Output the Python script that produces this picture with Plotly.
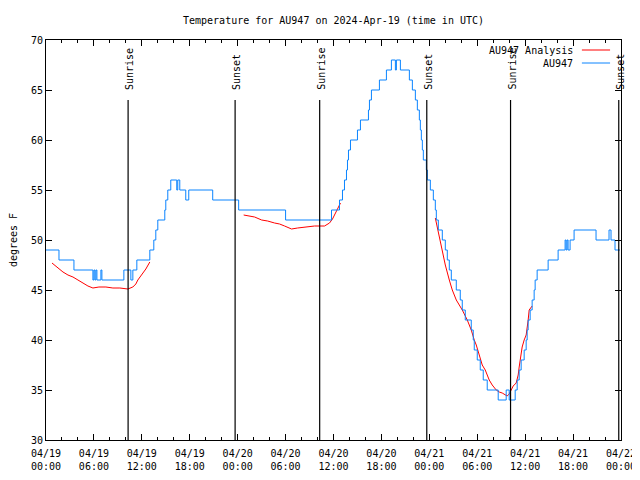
import pandas as pd
import plotly.graph_objects as go

BASE = pd.Timestamp("2024-04-19 00:00")

# Observed station temperature (hours since 04/19 00:00 UTC, deg F), step data
obs_hours = [0.0, 1.625, 3.5, 5.875, 6.0, 6.125, 6.25, 6.375, 6.875, 7.0, 9.75, 10.625, 10.875,
             11.375, 13.0, 13.5, 13.75, 14.0, 14.875, 15.0, 15.25, 15.625, 16.375, 16.5, 16.75,
             17.5, 17.875, 20.875, 24.125, 30.0, 35.75, 36.75, 37.125, 37.375, 37.625, 37.75,
             37.875, 38.125, 39.0, 39.375, 40.375, 40.5, 40.75, 41.75, 42.625, 43.25, 43.75,
             43.875, 44.375, 45.5, 45.875, 46.25, 46.5, 46.75, 46.875, 47.0, 47.125, 47.25,
             47.625, 47.75, 48.125, 48.5, 48.75, 48.875, 49.125, 49.625, 50.0, 50.25, 50.5,
             50.75, 51.375, 51.875, 52.125, 52.5, 53.25, 53.5, 53.625, 54.0, 54.375, 54.75,
             55.25, 56.625, 57.625, 58.0, 58.75, 59.0, 59.25, 59.5, 59.875, 60.125, 60.25,
             60.375, 60.625, 60.875, 61.125, 61.25, 61.5, 62.875, 64.125, 65.0, 65.125, 65.25,
             65.375, 65.625, 66.125, 68.875, 70.5, 70.75, 71.25, 71.875]
obs_temps = [49, 48, 47, 46, 47, 46, 47, 46, 47, 46, 47, 46, 47,
             48, 49, 50, 51, 52, 53, 54, 55, 56, 55, 56, 55,
             54, 55, 54, 53, 52, 53, 54, 55, 56, 57, 58,
             59, 60, 61, 62, 63, 64, 65, 66, 67, 68, 67,
             68, 67, 66, 65, 64, 63, 62, 61, 60, 59, 58,
             57, 56, 55, 54, 53, 52, 51, 50, 49, 48, 47,
             46, 45, 44, 43, 42, 41, 40, 39, 38, 37, 36,
             35, 34, 35, 34, 35, 36, 37, 38, 39, 40, 41,
             42, 43, 44, 45, 46, 47, 48, 49, 50, 49, 50,
             49, 50, 51, 50, 51, 50, 49, 49]

# Analysis temperature (None separates segments)
ana_hours = [0.75, 1.5, 2.125, 2.75, 3.375, 4.0, 4.625, 5.25, 5.875, 6.625, 7.5, 8.375, 9.25,
             9.875, 10.25, 10.875, 11.25, 11.5, 11.875, 12.125, 12.5, 13.0, None,
             24.75, 25.5, 26.125, 27.0, 27.75, 28.625, 29.25, 29.875, 30.75, 31.5, 32.375,
             33.625, 34.875, 35.5, 35.875, 36.125, 36.5, 36.875, None,
             48.75, 49.0, 49.375, 49.625, 50.0, 50.5, 50.875, 51.375, 51.75, 52.125, 52.75,
             53.0, 53.25, 53.625, 53.875, 54.25, 54.625, 55.0, 55.5, 55.875, 56.375, 56.75,
             57.125, 57.75, 58.0, 58.25, 58.5, 58.875, 59.125, 59.25, 59.5, 59.625, 59.875,
             60.125, 60.375, 60.5, 60.875]
ana_temps = [47.7, 47.2, 46.8, 46.5, 46.3, 46.0, 45.7, 45.4, 45.2, 45.3, 45.3, 45.2, 45.2,
             45.1, 45.1, 45.3, 45.6, 46.0, 46.4, 46.7, 47.1, 47.8, None,
             52.5, 52.4, 52.3, 52.0, 51.9, 51.7, 51.6, 51.4, 51.1, 51.2, 51.3,
             51.4, 51.4, 51.7, 52.1, 52.5, 53.0, 53.7, None,
             52.2, 51.2, 50.0, 49.0, 47.5, 46.0, 45.0, 44.0, 43.5, 43.0, 42.0,
             41.5, 41.0, 40.0, 39.5, 38.5, 37.5, 37.0, 36.0, 35.5, 35.0, 34.8,
             34.7, 34.4, 34.6, 35.0, 35.4, 35.7, 36.5, 37.3, 38.5, 39.3, 40.0,
             40.5, 42.0, 43.0, 43.4]

sun_hours = [10.28, 23.68, 34.27, 47.68, 58.17, 71.72]
sun_labels = ["Sunrise", "Sunset", "Sunrise", "Sunset", "Sunrise", "Sunset"]

FONT = "DejaVu Sans Mono"
RED = "#ff0000"
BLUE = "#0a84ff"

# page body has an 8px margin; plot area should land at x 46-621, y 40-440
L, T, R, B = 38, 32, 27, 48


def to_time(hours):
    return [None if h is None else BASE + pd.Timedelta(hours=h) for h in hours]


fig = go.Figure()
fig.add_trace(go.Scatter(x=to_time(ana_hours), y=ana_temps, mode="lines",
                         line=dict(color=RED, width=1), connectgaps=False,
                         name="AU947 Analysis", showlegend=False))
fig.add_trace(go.Scatter(x=to_time(obs_hours), y=obs_temps, mode="lines",
                         line=dict(color=BLUE, width=1, shape="hv"),
                         name="AU947", showlegend=False))

for h, lab in zip(sun_hours, sun_labels):
    t = BASE + pd.Timedelta(hours=h)
    fig.add_shape(type="line", xref="x", yref="y", x0=t, x1=t, y0=30, y1=64,
                  line=dict(color="black", width=1.2))
    fig.add_annotation(x=t, y=0.87, xref="x", yref="paper", text=lab, textangle=-90,
                       showarrow=False, yanchor="bottom", xanchor="center", xshift=1,
                       font=dict(family=FONT, size=10, color="black"))

# Legend (drawn manually, gnuplot style)
legend_items = [("AU947 Analysis", RED, 0.975), ("AU947", BLUE, 0.9425)]
for text, col, yy in legend_items:
    fig.add_annotation(x=0.92, y=yy, xref="paper", yref="paper", text=text,
                       showarrow=False, xanchor="right", yanchor="middle",
                       font=dict(family=FONT, size=10, color="black"))
    fig.add_shape(type="line", xref="paper", yref="paper", x0=0.932, x1=0.981,
                  y0=yy, y1=yy, line=dict(color=col, width=1))

fig.update_layout(
    width=640, height=480,
    margin=dict(l=L, r=R, t=T, b=B, autoexpand=False),
    paper_bgcolor="white", plot_bgcolor="white",
    font=dict(family=FONT, size=10, color="black"),
    title=dict(text="Temperature for AU947 on 2024-Apr-19 (time in UTC)",
               x=(L + (640 - R)) / 2 / 640, xanchor="center",
               y=1 - 12 / 480, yanchor="middle", yref="container",
               font=dict(family=FONT, size=10)),
)

fig.update_xaxes(
    type="date", range=[BASE, BASE + pd.Timedelta(hours=72)],
    tick0=BASE, dtick=6 * 3600 * 1000, tickformat="%m/%d<br>%H:%M",
    ticks="inside", ticklen=6, tickcolor="black", tickwidth=1,
    minor=dict(dtick=2 * 3600 * 1000, ticks="inside", ticklen=3, tickcolor="black"),
    showline=True, linecolor="black", linewidth=1, mirror="allticks",
    showgrid=False, zeroline=False, tickfont=dict(family=FONT, size=10),
    ticklabelstandoff=4,
)
fig.update_yaxes(
    range=[30, 70], dtick=5, ticks="inside", ticklen=6, tickcolor="black",
    showline=True, linecolor="black", linewidth=1, mirror="allticks",
    showgrid=False, zeroline=False, tickfont=dict(family=FONT, size=10),
    title=dict(text="degrees F", font=dict(family=FONT, size=10), standoff=17),
)

fig.write_html("out.html")
